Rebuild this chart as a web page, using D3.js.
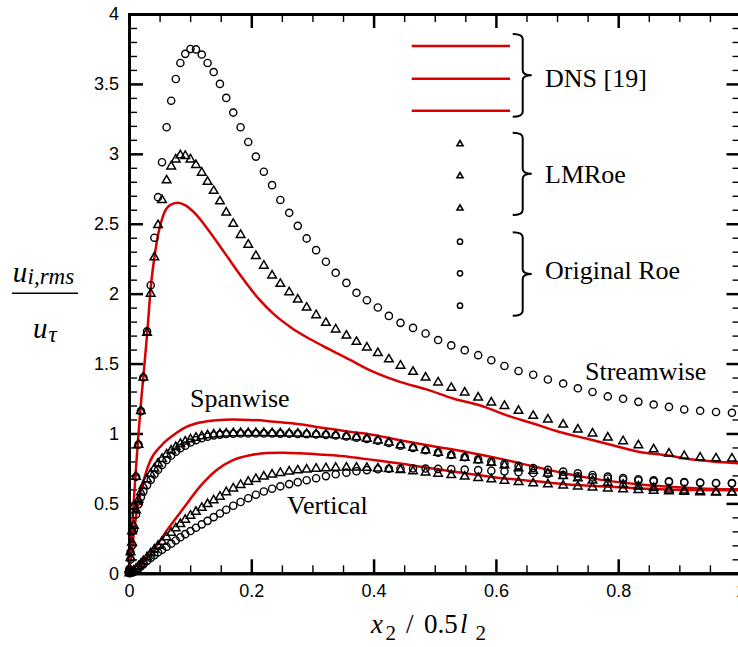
<!DOCTYPE html>
<html lang="en">
<head>
  <meta charset="UTF-8">
  <title>u_rms profiles</title>
  <style>
    body { margin: 0; background: #fff; }
    .axis path.domain { stroke: #000; stroke-width: 3px; stroke-linecap: square; }
    .axis .tick line { stroke: #000; stroke-width: 2.5px; }
    .axis.minor .tick line { stroke-width: 1.4px; }
  </style>
</head>
<body>
<div id="chart"></div>
<script src="https://cdn.jsdelivr.net/npm/d3@7/dist/d3.min.js"></script>
<script>
// tick labels
let xTicks = [0, 0.2, 0.4, 0.6, 0.8, 1]
let yTicks = [0, 0.5, 1, 1.5, 2, 2.5, 3, 3.5, 4]

// DNS [19] curves (red lines)
let dnsStreamX = [0, 0.005, 0.01, 0.015, 0.02, 0.0234, 0.03, 0.0355, 0.0425, 0.048, 0.056, 0.067, 0.0796, 0.0916, 0.108, 0.13, 0.157, 0.184, 0.2115, 0.2386, 0.266, 0.29, 0.3175, 0.36, 0.40, 0.443, 0.4865, 0.53, 0.5735, 0.617, 0.661, 0.704, 0.748, 0.791, 0.835, 0.879, 0.922, 0.966, 1.0]
let dnsStreamY = [0, 0.33, 0.66, 0.97, 1.24, 1.40, 1.73, 2.04, 2.29, 2.43, 2.56, 2.633, 2.65, 2.633, 2.574, 2.454, 2.288, 2.121, 1.966, 1.846, 1.755, 1.69, 1.625, 1.53, 1.44, 1.369, 1.315, 1.25, 1.202, 1.131, 1.071, 1.011, 0.964, 0.916, 0.868, 0.844, 0.814, 0.796, 0.785]
let dnsSpanX = [0, 0.005, 0.01, 0.015, 0.02, 0.027, 0.0343, 0.0534, 0.0724, 0.094, 0.116, 0.143, 0.17, 0.198, 0.225, 0.252, 0.279, 0.307, 0.334, 0.361, 0.388, 0.443, 0.497, 0.552, 0.606, 0.661, 0.715, 0.77, 0.824, 0.878, 0.933, 1.0]
let dnsSpanY = [0, 0.18, 0.36, 0.5, 0.6, 0.71, 0.80, 0.916, 0.987, 1.047, 1.078, 1.095, 1.10, 1.097, 1.09, 1.078, 1.066, 1.047, 1.03, 1.012, 0.998, 0.952, 0.909, 0.868, 0.82, 0.765, 0.712, 0.67, 0.64, 0.62, 0.607, 0.6]
let dnsVertX = [0, 0.0125, 0.0234, 0.04, 0.0616, 0.0887, 0.116, 0.143, 0.17, 0.198, 0.225, 0.252, 0.279, 0.307, 0.334, 0.361, 0.4, 0.443, 0.497, 0.552, 0.606, 0.661, 0.715, 0.77, 0.824, 0.878, 0.933, 1.0]
let dnsVertY = [0, 0.02, 0.08, 0.165, 0.305, 0.463, 0.62, 0.737, 0.809, 0.844, 0.861, 0.863, 0.859, 0.851, 0.844, 0.832, 0.81, 0.785, 0.749, 0.713, 0.682, 0.66, 0.637, 0.622, 0.61, 0.60, 0.595, 0.594]

// grid points of the LES runs (same for both schemes)
let gridX = [0.0005, 0.0025, 0.005, 0.008, 0.0115, 0.0155, 0.0195, 0.0235, 0.0295, 0.0355, 0.0415, 0.0475, 0.054, 0.0615, 0.069, 0.0765, 0.084, 0.092, 0.1005, 0.1095, 0.119, 0.1285, 0.1385, 0.1487, 0.159, 0.1705, 0.1825, 0.195, 0.2075, 0.2205, 0.234, 0.2475, 0.262, 0.276, 0.2905, 0.306, 0.322, 0.338, 0.3555, 0.372, 0.389, 0.407, 0.425, 0.444, 0.4645, 0.485, 0.5055, 0.527, 0.549, 0.571, 0.5925, 0.614, 0.637, 0.661, 0.685, 0.71, 0.734, 0.758, 0.783, 0.808, 0.833, 0.858, 0.883, 0.908, 0.934, 0.96, 0.986]

// Original Roe (circles)
let roeStream = [0.03, 0.15, 0.30, 0.48, 0.69, 0.92, 1.16, 1.40, 1.73, 2.06, 2.40, 2.69, 2.94, 3.19, 3.38, 3.535, 3.65, 3.715, 3.75, 3.747, 3.71, 3.65, 3.585, 3.50, 3.40, 3.295, 3.19, 3.085, 2.98, 2.872, 2.776, 2.67, 2.578, 2.485, 2.395, 2.311, 2.228, 2.149, 2.077, 2.006, 1.953, 1.901, 1.841, 1.791, 1.755, 1.715, 1.668, 1.63, 1.596, 1.56, 1.524, 1.483, 1.447, 1.42, 1.386, 1.357, 1.323, 1.297, 1.265, 1.248, 1.226, 1.207, 1.19, 1.172, 1.162, 1.154, 1.148]
let roeSpan = [0.02, 0.10, 0.20, 0.31, 0.42, 0.495, 0.545, 0.585, 0.63, 0.668, 0.706, 0.74, 0.775, 0.81, 0.842, 0.87, 0.895, 0.913, 0.935, 0.952, 0.966, 0.977, 0.986, 0.992, 0.996, 0.998, 1.0, 1.0, 1.0, 1.0, 1.0, 0.999, 0.998, 0.997, 0.995, 0.993, 0.99, 0.985, 0.978, 0.97, 0.96, 0.948, 0.932, 0.912, 0.896, 0.88, 0.863, 0.847, 0.831, 0.815, 0.799, 0.783, 0.768, 0.753, 0.74, 0.727, 0.715, 0.703, 0.692, 0.682, 0.673, 0.665, 0.658, 0.653, 0.649, 0.646, 0.645]
let roeVert = [0, 0.003, 0.007, 0.013, 0.022, 0.035, 0.05, 0.065, 0.088, 0.11, 0.13, 0.15, 0.168, 0.19, 0.212, 0.235, 0.258, 0.28, 0.302, 0.326, 0.35, 0.375, 0.402, 0.428, 0.455, 0.483, 0.51, 0.537, 0.562, 0.585, 0.605, 0.622, 0.638, 0.652, 0.666, 0.68, 0.695, 0.708, 0.72, 0.73, 0.738, 0.744, 0.748, 0.75, 0.75, 0.749, 0.747, 0.745, 0.742, 0.738, 0.734, 0.729, 0.723, 0.717, 0.71, 0.702, 0.694, 0.686, 0.678, 0.671, 0.664, 0.658, 0.653, 0.649, 0.646, 0.644, 0.643]

// LMRoe (triangles)
let lmStream = [0.03, 0.15, 0.30, 0.48, 0.69, 0.92, 1.16, 1.40, 1.72, 2.0, 2.26, 2.49, 2.67, 2.81, 2.91, 2.96, 2.99, 2.985, 2.96, 2.92, 2.865, 2.80, 2.735, 2.66, 2.58, 2.50, 2.42, 2.35, 2.27, 2.20, 2.13, 2.07, 2.01, 1.958, 1.90, 1.846, 1.791, 1.744, 1.70, 1.655, 1.615, 1.575, 1.53, 1.485, 1.441, 1.40, 1.365, 1.326, 1.293, 1.257, 1.221, 1.197, 1.162, 1.126, 1.10, 1.064, 1.028, 1.0, 0.971, 0.945, 0.916, 0.887, 0.857, 0.839, 0.828, 0.822, 0.821]
let lmSpan = [0.02, 0.11, 0.22, 0.34, 0.45, 0.525, 0.58, 0.625, 0.672, 0.712, 0.75, 0.785, 0.818, 0.85, 0.878, 0.903, 0.925, 0.942, 0.958, 0.97, 0.98, 0.987, 0.993, 0.997, 1.0, 1.002, 1.003, 1.003, 1.003, 1.003, 1.002, 1.001, 1.0, 0.999, 0.997, 0.995, 0.992, 0.987, 0.98, 0.972, 0.962, 0.95, 0.935, 0.915, 0.898, 0.88, 0.862, 0.844, 0.826, 0.808, 0.79, 0.772, 0.752, 0.733, 0.714, 0.696, 0.679, 0.663, 0.648, 0.634, 0.621, 0.61, 0.6, 0.592, 0.586, 0.582, 0.58]
let lmVert = [0, 0.004, 0.01, 0.02, 0.033, 0.05, 0.068, 0.088, 0.115, 0.143, 0.17, 0.197, 0.225, 0.258, 0.29, 0.322, 0.352, 0.383, 0.412, 0.44, 0.468, 0.495, 0.522, 0.548, 0.58, 0.607, 0.632, 0.655, 0.675, 0.692, 0.706, 0.718, 0.728, 0.736, 0.742, 0.748, 0.752, 0.755, 0.756, 0.756, 0.754, 0.75, 0.745, 0.738, 0.73, 0.721, 0.712, 0.702, 0.692, 0.682, 0.672, 0.662, 0.653, 0.644, 0.636, 0.628, 0.621, 0.614, 0.607, 0.601, 0.596, 0.591, 0.587, 0.583, 0.58, 0.578, 0.577]

let red = '#d80000'
let width = 738
let height = 647
let sansFont = 'Arial, "Liberation Sans", sans-serif'
let serifFont = '"Liberation Serif", "Noto Serif", "DejaVu Serif", "Times New Roman", Times, serif'

let svg = d3.select('#chart').append('svg').attr('width', width).attr('height', height)
svg.append('rect').attr('width', width).attr('height', height).attr('fill', '#fff')

// scales (the right frame edge x=1 sits just outside the picture)
let x = d3.scaleLinear().domain([0, 1]).range([129, 740.5])
let y = d3.scaleLinear().domain([0, 4]).range([573.3, 14])

let xMinor = d3.range(0, 1.0001, 0.05).filter(v => Math.abs(v * 5 - Math.round(v * 5)) > 1e-6)
let yMinor = d3.range(0, 4.0001, 0.1).filter(v => Math.abs(v * 2 - Math.round(v * 2)) > 1e-6)

// minor ticks on all four sides
svg.append('g').attr('class', 'axis minor').attr('transform', 'translate(0,' + y(0) + ')')
  .call(d3.axisBottom(x).tickValues(xMinor).tickSize(-8).tickSizeOuter(0).tickFormat(''))
svg.append('g').attr('class', 'axis minor').attr('transform', 'translate(0,' + y(4) + ')')
  .call(d3.axisTop(x).tickValues(xMinor).tickSize(-8).tickSizeOuter(0).tickFormat(''))
svg.append('g').attr('class', 'axis minor').attr('transform', 'translate(' + x(0) + ',0)')
  .call(d3.axisLeft(y).tickValues(yMinor).tickSize(-8).tickSizeOuter(0).tickFormat(''))
svg.append('g').attr('class', 'axis minor').attr('transform', 'translate(' + x(1) + ',0)')
  .call(d3.axisRight(y).tickValues(yMinor).tickSize(-8).tickSizeOuter(0).tickFormat(''))

// major ticks + labels
svg.append('g').attr('class', 'axis').attr('transform', 'translate(0,' + y(0) + ')')
  .call(d3.axisBottom(x).tickValues(xTicks).tickSize(-14).tickSizeOuter(0).tickPadding(11).tickFormat(d => d))
svg.append('g').attr('class', 'axis').attr('transform', 'translate(0,' + y(4) + ')')
  .call(d3.axisTop(x).tickValues(xTicks).tickSize(-14).tickSizeOuter(0).tickFormat(''))
svg.append('g').attr('class', 'axis').attr('transform', 'translate(' + x(0) + ',0)')
  .call(d3.axisLeft(y).tickValues(yTicks).tickSize(-14).tickSizeOuter(0).tickPadding(10).tickFormat(d => d))
svg.append('g').attr('class', 'axis').attr('transform', 'translate(' + x(1) + ',0)')
  .call(d3.axisRight(y).tickValues(yTicks).tickSize(-14).tickSizeOuter(0).tickFormat(''))
svg.selectAll('.axis').attr('font-family', sansFont).attr('font-size', 18)
svg.selectAll('.axis .tick text').attr('fill', '#000')

// DNS lines
let line = d3.line().x(d => x(d[0])).y(d => y(d[1])).curve(d3.curveMonotoneX)
;[[dnsStreamX, dnsStreamY], [dnsSpanX, dnsSpanY], [dnsVertX, dnsVertY]].forEach(s => {
  svg.append('path')
    .attr('d', line(d3.zip(s[0], s[1])))
    .attr('fill', 'none')
    .attr('stroke', red)
    .attr('stroke-width', 2.5)
})

// LMRoe triangles
let tri = d3.symbol().type(d3.symbolTriangle).size(32)
;[lmStream, lmSpan, lmVert].forEach(vals => {
  svg.append('g').selectAll('path').data(d3.zip(gridX, vals)).enter()
    .append('path')
    .attr('d', tri)
    .attr('transform', d => 'translate(' + x(d[0]) + ',' + y(d[1]) + ')')
    .attr('fill', 'none')
    .attr('stroke', '#000')
    .attr('stroke-width', 1.5)
})

// Original Roe circles
;[roeStream, roeSpan, roeVert].forEach(vals => {
  svg.append('g').selectAll('circle').data(d3.zip(gridX, vals)).enter()
    .append('circle')
    .attr('cx', d => x(d[0]))
    .attr('cy', d => y(d[1]))
    .attr('r', 3.6)
    .attr('fill', 'none')
    .attr('stroke', '#000')
    .attr('stroke-width', 1.4)
})

function serifText (parent, tx, ty, str) {
  return parent.append('text').attr('x', tx).attr('y', ty)
    .attr('font-family', serifFont).attr('font-size', 26).attr('fill', '#000').text(str)
}

// curve labels
serifText(svg, 585, 380, 'Streamwise')
serifText(svg, 190, 407, 'Spanwise')
serifText(svg, 287, 514, 'Vertical')

// legend
let lg = svg.append('g')
;[46, 78.7, 110.7].forEach(ly => {
  lg.append('line').attr('x1', 411.7).attr('x2', 510).attr('y1', ly).attr('y2', ly)
    .attr('stroke', red).attr('stroke-width', 2.5)
})
;[144, 176, 208.3].forEach(ly => {
  lg.append('path').attr('d', d3.symbol().type(d3.symbolTriangle).size(16))
    .attr('transform', 'translate(460,' + ly + ')')
    .attr('fill', 'none').attr('stroke', '#000').attr('stroke-width', 1.6)
})
;[241.7, 273.3, 305.7].forEach(ly => {
  lg.append('circle').attr('cx', 460).attr('cy', ly).attr('r', 2.6)
    .attr('fill', 'none').attr('stroke', '#000').attr('stroke-width', 1.5)
})

function bracket (top, bottom) {
  let bx = 522.7
  let mid = (top + bottom) / 2
  let d = 'M' + (bx - 10) + ',' + top + ' Q' + bx + ',' + top + ' ' + bx + ',' + (top + 5) +
    ' L' + bx + ',' + (mid - 5) + ' Q' + bx + ',' + mid + ' ' + (bx + 9) + ',' + mid +
    ' Q' + bx + ',' + mid + ' ' + bx + ',' + (mid + 5) +
    ' L' + bx + ',' + (bottom - 5) + ' Q' + bx + ',' + bottom + ' ' + (bx - 10) + ',' + bottom
  lg.append('path').attr('d', d).attr('fill', 'none').attr('stroke', '#000').attr('stroke-width', 2)
}
bracket(34, 116.7)
bracket(132.7, 215)
bracket(232.3, 315.7)

serifText(lg, 545, 86.7, 'DNS [19]')
serifText(lg, 545, 183, 'LMRoe')
serifText(lg, 545, 279, 'Original Roe')

// x title: x2 / 0.5 l2
let xt = svg.append('text').attr('font-family', serifFont).attr('fill', '#000').attr('y', 632.5).attr('font-size', 27)
xt.append('tspan').attr('x', 371).attr('font-style', 'italic').text('x')
xt.append('tspan').attr('x', 385.5).attr('y', 640).attr('font-size', 21).text('2')
xt.append('tspan').attr('x', 406).attr('y', 632.5).text('/')
xt.append('tspan').attr('x', 424).text('0.5')
xt.append('tspan').attr('x', 460).attr('font-style', 'italic').text('l')
xt.append('tspan').attr('x', 475.5).attr('y', 640).attr('font-size', 21).text('2')

// y title: u_{i,rms} / u_tau
let yn = svg.append('text').attr('font-family', serifFont).attr('fill', '#000').attr('y', 281.7).attr('font-size', 29).attr('font-style', 'italic')
yn.append('tspan').attr('x', 12.7).text('u')
yn.append('tspan').attr('x', 27.5).attr('y', 284).attr('font-size', 23).text('i,rms')
svg.append('line').attr('x1', 12).attr('x2', 78).attr('y1', 293.3).attr('y2', 293.3)
  .attr('stroke', '#000').attr('stroke-width', 1.5)
let yd = svg.append('text').attr('font-family', serifFont).attr('fill', '#000').attr('y', 338).attr('font-size', 29).attr('font-style', 'italic')
yd.append('tspan').attr('x', 33).text('u')
yd.append('tspan').attr('x', 48.5).attr('y', 342).attr('font-size', 23).text('τ')
</script>
</body>
</html>
